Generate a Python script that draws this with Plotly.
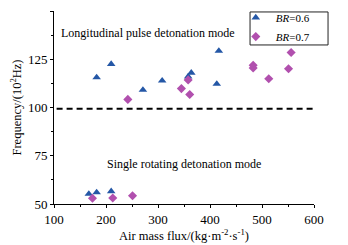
import plotly.graph_objects as go

br06_x = [167, 182, 210, 182, 210, 271, 308, 358, 364, 417, 413]
br06_y = [55.2, 56.0, 56.6, 115.6, 122.5, 109.1, 113.9, 116.0, 118.0, 129.3, 112.2]
br07_x = [174, 213, 251, 242, 345, 358, 361, 483, 483, 513, 551, 556]
br07_y = [53.0, 53.1, 54.3, 104.2, 109.8, 114.3, 106.7, 121.9, 120.5, 114.9, 120.1, 128.5]
threshold = 99.3
x_ticks = [100, 200, 300, 400, 500, 600]
y_ticks = [50, 75, 100, 125, 150]

font = "Liberation Serif"
fig = go.Figure()
fig.add_trace(go.Scatter(x=br06_x, y=br06_y, mode="markers", name="<i>BR</i>=0.6",
                         marker=dict(symbol="triangle-up", size=7.5, color="#2457a6")))
fig.add_trace(go.Scatter(x=br07_x, y=br07_y, mode="markers", name="<i>BR</i>=0.7",
                         marker=dict(symbol="diamond", size=7, color="#b150ae")))
fig.add_shape(type="line", xref="paper", x0=0.01, x1=0.995, y0=threshold, y1=threshold,
              line=dict(color="black", width=2, dash="6px,4px"))
# legend frame
fig.add_shape(type="rect", xref="paper", yref="paper", x0=0.754, x1=1.054, y0=0.824, y1=0.995,
              line=dict(color="#222222", width=1), fillcolor="rgba(0,0,0,0)", layer="above")
fig.add_annotation(x=0.36, y=138.8, xref="paper", yref="y", text="Longitudinal pulse detonation mode",
                   showarrow=False, font=dict(size=12, color="black", family=font))
fig.add_annotation(x=0.50, y=70.5, xref="paper", yref="y", text="Single rotating detonation mode",
                   showarrow=False, font=dict(size=12, color="black", family=font))
fig.update_layout(
    width=340, height=237, margin=dict(l=46, r=34, t=3, b=41, autoexpand=False),
    paper_bgcolor="white", plot_bgcolor="white",
    font=dict(family=font, size=13, color="black"),
    legend=dict(x=1.003, y=1.041, xanchor="right", yanchor="top", borderwidth=0,
                bgcolor="rgba(0,0,0,0)", font=dict(size=11, family=font),
                itemwidth=30, tracegroupgap=0),
    xaxis=dict(range=[100, 600], tickvals=x_ticks, showgrid=False, zeroline=False, automargin=False,
               showline=True, linecolor="black", linewidth=1, ticks="outside", ticklen=3,
               tickcolor="black", minor=dict(ticks="outside", ticklen=2, dtick=50, tickcolor="black"),
               title=dict(text="Air mass flux/(kg·m<sup>-2</sup>·s<sup>-1</sup>)", standoff=3,
                          font=dict(size=12.5))),
    yaxis=dict(range=[50, 150], tickvals=y_ticks, showgrid=False, zeroline=False, automargin=False,
               showline=True, linecolor="black", linewidth=1, ticks="outside", ticklen=3,
               tickcolor="black", minor=dict(ticks="outside", ticklen=2, dtick=12.5, tickcolor="black"),
               title=dict(text="Frequency/(10<sup>2</sup>Hz)", standoff=3, font=dict(size=12.5))),
)
fig.write_html("out.html")
